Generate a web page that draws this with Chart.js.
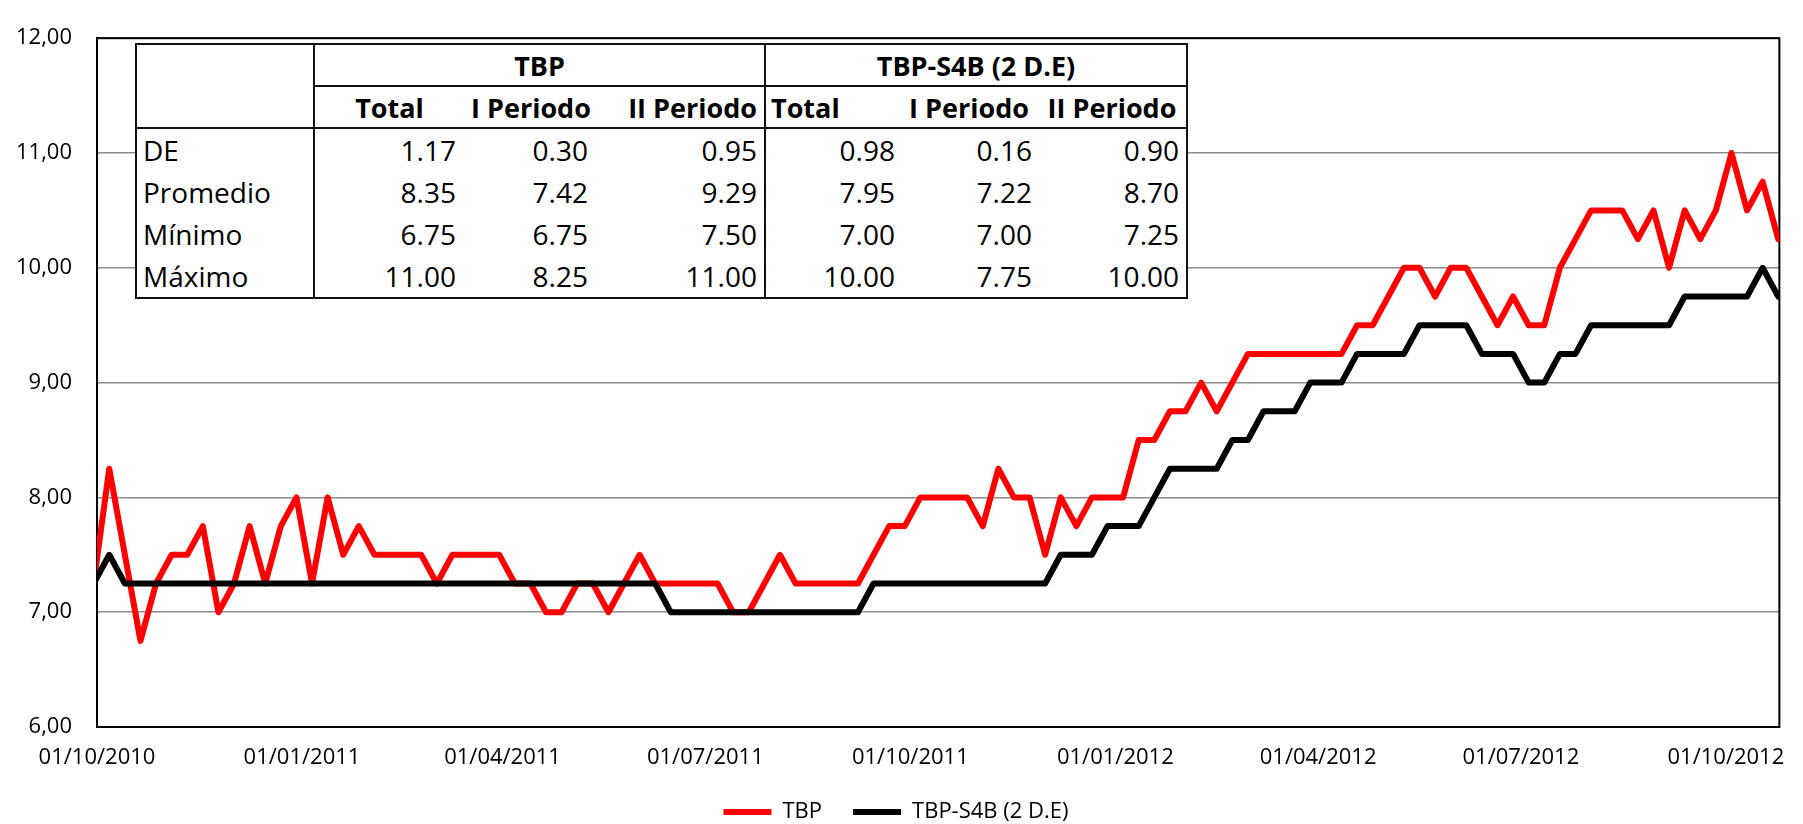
<!DOCTYPE html>
<html>
<head>
<meta charset="utf-8">
<script src="https://cdn.jsdelivr.net/npm/chart.js@4.4.1/dist/chart.umd.min.js"></script>
<style>
  body { margin: 0; background: #fff; }
  #wrap { position: relative; width: 1803px; height: 824px; }
  #stats {
    position: absolute; left: 135px; top: 43px; width: 1051px;
    border-collapse: collapse; table-layout: fixed; background: #fff;
    font-family: "Open Sans", sans-serif; color: #000;
    border: 2px solid #111;
  }
  #stats th, #stats td { padding: 0; white-space: nowrap; line-height: 1; }
  #stats th { font-weight: bold; font-size: 27px; height: 40px; }
  #stats td { font-size: 28px; text-align: right; height: 42px; }
  #stats td.lab { text-align: left; padding-left: 6px; }
  #stats .vl { border-left: 2px solid #111; }
  #stats .bb { border-bottom: 2px solid #111; }
</style>
</head>
<body>
<div id="wrap">
  <canvas id="chart" width="1803" height="824"></canvas>
  <table id="stats"></table>
</div>
<script>
// Semanas (miércoles) desde el 29/09/2010
const firstWeek = '29/09/2010';

const tbp = [
  7.25, 8.25, 7.5, 6.75, 7.25, 7.5, 7.5, 7.75, 7.0, 7.25,
  7.75, 7.25, 7.75, 8.0, 7.25, 8.0, 7.5, 7.75, 7.5, 7.5,
  7.5, 7.5, 7.25, 7.5, 7.5, 7.5, 7.5, 7.25, 7.25, 7.0,
  7.0, 7.25, 7.25, 7.0, 7.25, 7.5, 7.25, 7.25, 7.25, 7.25,
  7.25, 7.0, 7.0, 7.25, 7.5, 7.25, 7.25, 7.25, 7.25, 7.25,
  7.5, 7.75, 7.75, 8.0, 8.0, 8.0, 8.0, 7.75, 8.25, 8.0,
  8.0, 7.5, 8.0, 7.75, 8.0, 8.0, 8.0, 8.5, 8.5, 8.75,
  8.75, 9.0, 8.75, 9.0, 9.25, 9.25, 9.25, 9.25, 9.25, 9.25,
  9.25, 9.5, 9.5, 9.75, 10.0, 10.0, 9.75, 10.0, 10.0, 9.75,
  9.5, 9.75, 9.5, 9.5, 10.0, 10.25, 10.5, 10.5, 10.5, 10.25,
  10.5, 10.0, 10.5, 10.25, 10.5, 11.0, 10.5, 10.75, 10.25
];

const tbpS4b = [
  7.25, 7.5, 7.25, 7.25, 7.25, 7.25, 7.25, 7.25, 7.25, 7.25,
  7.25, 7.25, 7.25, 7.25, 7.25, 7.25, 7.25, 7.25, 7.25, 7.25,
  7.25, 7.25, 7.25, 7.25, 7.25, 7.25, 7.25, 7.25, 7.25, 7.25,
  7.25, 7.25, 7.25, 7.25, 7.25, 7.25, 7.25, 7.0, 7.0, 7.0,
  7.0, 7.0, 7.0, 7.0, 7.0, 7.0, 7.0, 7.0, 7.0, 7.0,
  7.25, 7.25, 7.25, 7.25, 7.25, 7.25, 7.25, 7.25, 7.25, 7.25,
  7.25, 7.25, 7.5, 7.5, 7.5, 7.75, 7.75, 7.75, 8.0, 8.25,
  8.25, 8.25, 8.25, 8.5, 8.5, 8.75, 8.75, 8.75, 9.0, 9.0,
  9.0, 9.25, 9.25, 9.25, 9.25, 9.5, 9.5, 9.5, 9.5, 9.25,
  9.25, 9.25, 9.0, 9.0, 9.25, 9.25, 9.5, 9.5, 9.5, 9.5,
  9.5, 9.5, 9.75, 9.75, 9.75, 9.75, 9.75, 10.0, 9.75
];

const xTickLabels = ['01/10/2010', '01/01/2011', '01/04/2011', '01/07/2011', '01/10/2011',
                     '01/01/2012', '01/04/2012', '01/07/2012', '01/10/2012'];
const yTicks = [6, 7, 8, 9, 10, 11, 12];

// tabla de estadísticas
const statRows = ['DE', 'Promedio', 'Mínimo', 'Máximo'];
const groups = ['TBP', 'TBP-S4B (2 D.E)'];
const subCols = ['Total', 'I Periodo', 'II Periodo'];
const tbpStats = [['1.17', '0.30', '0.95'], ['8.35', '7.42', '9.29'], ['6.75', '6.75', '7.50'], ['11.00', '8.25', '11.00']];
const s4bStats = [['0.98', '0.16', '0.90'], ['7.95', '7.22', '8.70'], ['7.00', '7.00', '7.25'], ['10.00', '7.75', '10.00']];

const DAY = 86400000;
function toDay(s) {
  const [d, m, y] = s.split('/').map(Number);
  return Date.UTC(y, m - 1, d);
}
const origin = toDay(xTickLabels[0]);
const dayOf = s => (toDay(s) - origin) / DAY;

// Excel centra cada punto en su día (+0.5)
const weekX = tbp.map((_, i) => dayOf(firstWeek) + 7 * i + 0.5);
const tickDays = xTickLabels.map(dayOf);

function buildTable() {
  const colW = [178, 150, 134, 167, 136, 137, 149];
  const hAlign = ['center', 'center', 'right', 'left', 'right', 'center'];
  const hPad = ['', '', 'padding-right:7px', 'padding-left:5px', 'padding-right:9px', ''];
  const vPad = [8, 10, 7, 6, 6, 7];
  let html = '<colgroup>' + colW.map(w => `<col style="width:${w}px">`).join('') + '</colgroup>';
  html += `<tr><th rowspan="2" class="bb" style="border-right:2px solid #111"></th>` +
    groups.map((g, i) => `<th colspan="3" class="bb${i ? ' vl' : ''}">${g}</th>`).join('') + '</tr>';
  html += '<tr>' + [...subCols, ...subCols].map((c, i) =>
    `<th class="bb${i === 3 ? ' vl' : ''}" style="text-align:${hAlign[i]};${hPad[i]}">${c}</th>`).join('') + '</tr>';
  statRows.forEach((r, ri) => {
    const vals = [...tbpStats[ri], ...s4bStats[ri]];
    html += `<tr><td class="lab" style="border-right:2px solid #111">${r}</td>` +
      vals.map((v, i) => `<td class="${i === 3 ? 'vl' : ''}" style="padding-right:${vPad[i]}px">${v}</td>`).join('') + '</tr>';
  });
  document.getElementById('stats').innerHTML = html;
}

const plotFrame = {
  id: 'plotFrame',
  beforeDatasetsDraw(chart) {
    const { ctx, chartArea: a } = chart;
    ctx.save();
    ctx.strokeStyle = '#000';
    ctx.lineWidth = 2;
    ctx.strokeRect(a.left, a.top, a.right - a.left, a.bottom - a.top);
    ctx.restore();
  }
};

document.addEventListener('DOMContentLoaded', () => {
  buildTable();

  const font = { family: '"Open Sans", sans-serif', size: 22 };

  new Chart(document.getElementById('chart').getContext('2d'), {
    type: 'line',
    data: {
      datasets: [
        {
          label: 'TBP',
          data: tbp.map((v, i) => ({ x: weekX[i], y: v })),
          borderColor: '#ff0000',
          backgroundColor: '#ff0000',
          borderWidth: 6,
          borderJoinStyle: 'round',
          borderCapStyle: 'round',
          pointRadius: 0,
          tension: 0,
          order: 1
        },
        {
          label: 'TBP-S4B (2 D.E)',
          data: tbpS4b.map((v, i) => ({ x: weekX[i], y: v })),
          borderColor: '#000000',
          backgroundColor: '#000000',
          borderWidth: 6,
          borderJoinStyle: 'round',
          borderCapStyle: 'round',
          pointRadius: 0,
          tension: 0,
          order: 0
        }
      ]
    },
    options: {
      responsive: false,
      animation: false,
      devicePixelRatio: 1,
      layout: { padding: { left: 12, right: 23, top: 20, bottom: -9 } },
      plugins: {
        tooltip: { enabled: false },
        legend: {
          position: 'bottom',
          labels: {
            usePointStyle: true,
            pointStyle: 'line',
            pointStyleWidth: 48,
            padding: 31,
            color: '#000',
            font: font,
            sort: (a, b) => a.datasetIndex - b.datasetIndex
          }
        }
      },
      scales: {
        x: {
          type: 'linear',
          min: 0,
          max: 755,
          grid: { display: false, drawTicks: false },
          border: { color: '#000', width: 2 },
          afterBuildTicks: scale => { scale.ticks = tickDays.map(v => ({ value: v })); },
          afterFit: scale => { scale.height = 43; },
          ticks: {
            autoSkip: false,
            maxRotation: 0,
            padding: 18,
            color: '#000',
            font: font,
            callback: (v) => xTickLabels[tickDays.indexOf(v)]
          }
        },
        y: {
          min: yTicks[0],
          max: yTicks[yTicks.length - 1],
          grid: { color: '#8c8c8c', lineWidth: 1.6, drawTicks: false },
          border: { color: '#000', width: 2 },
          afterBuildTicks: scale => { scale.ticks = yTicks.map(v => ({ value: v })); },
          afterFit: scale => { scale.width = 85; },
          ticks: {
            padding: 25,
            color: '#000',
            font: font,
            callback: v => v.toFixed(2).replace('.', ',')
          }
        }
      }
    },
    plugins: [plotFrame]
  });
});
</script>
</body>
</html>
